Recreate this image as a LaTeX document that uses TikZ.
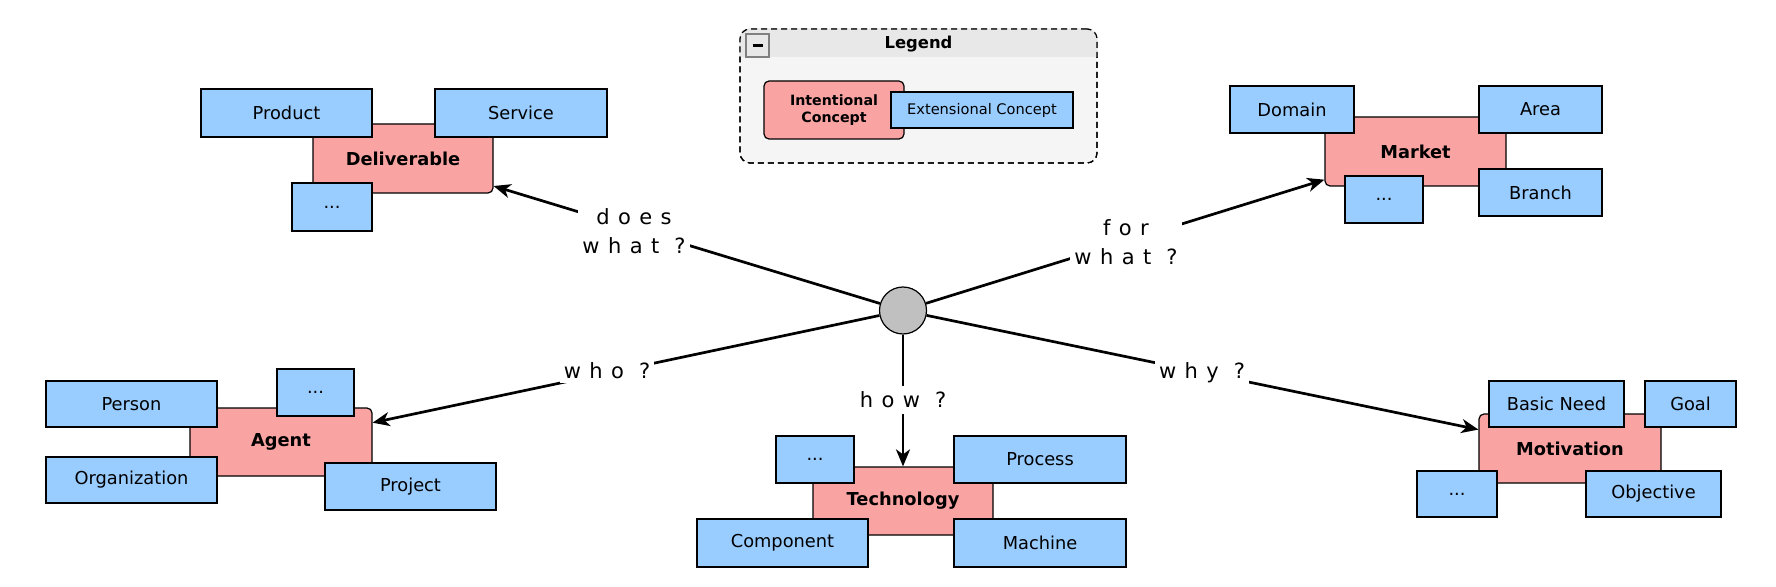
\documentclass[tikz,border=0pt]{standalone}
\usepackage{fontspec}
\setmainfont{DejaVu Sans}
\usetikzlibrary{arrows.meta}
\definecolor{intpink}{HTML}{F9A3A3}
\definecolor{extblue}{HTML}{99CCFF}
\definecolor{hubgray}{HTML}{C0C0C0}
\definecolor{legbody}{HTML}{F5F5F5}
\definecolor{legbar}{HTML}{E8E8E8}
\newcommand\lsp{\hspace{0.4em}}
\newcommand\qsp{\hspace{0.72em}}
\begin{document}
\begin{tikzpicture}[x=0.5pt,y=-0.5pt,
  wh/.style 2 args={minimum width=#1*0.5pt, minimum height=#2*0.5pt},
  intc/.style={draw=black, line width=0.6pt, fill=intpink, rounded corners=2.5pt, inner sep=0pt, align=center, font=\fontsize{8.9}{10}\selectfont\bfseries},
  extc/.style={draw=black, line width=0.6pt, fill=extblue, inner sep=0pt, font=\fontsize{8.9}{10}\selectfont},
  legint/.style={font=\fontsize{7.1}{8.6}\selectfont\bfseries},
  legext/.style={font=\fontsize{7.3}{8.6}\selectfont},
  hub/.style={circle, draw=black, line width=0.6pt, fill=hubgray, minimum size=23.5pt, inner sep=0pt},
  qarrow/.style={line width=1.35pt, -{Stealth[length=8.5pt,width=7pt,inset=2.5pt]}},
  qlabel/.style={fill=white, inner sep=2pt, align=center, font=\fontsize{10.5}{14.5}\selectfont},
  legendbox/.style={draw=black, line width=0.6pt, dash pattern=on 3pt off 2pt, rounded corners=5pt, inner sep=0pt},
]
\useasboundingbox (0,0) rectangle (1776,587);

% ---------- Legend ----------
\node[legendbox, fill=legbody, wh={357}{134}] (legend) at (918.5,96) {};
\fill[legbar] (legend.west |- 0,57) [rounded corners=5pt] -- (legend.north west) -- (legend.north east) [sharp corners] -- (legend.east |- 0,57) -- cycle;
\node[legendbox, wh={357}{134}] at (918.5,96) {};
\node[draw=gray, fill=legbar, line width=0.6pt, wh={23}{23}, inner sep=0pt] (minus) at (757.5,45.5) {};
\draw[line width=1.2pt] ([xshift=-2.5pt]minus.center) -- ([xshift=2.5pt]minus.center);
\node[font=\fontsize{8.2}{10}\selectfont\bfseries] (legtitle) at (918.5,44) {Legend};
\node[intc, legint, wh={140}{58}] (lint) at (834,110) {Intentional\\Concept};
\node[extc, legext, wh={182}{36}] (lext) at (982,110) {Extensional Concept};

% ---------- Intentional concepts ----------
\node[intc, wh={180}{69}] (deliv) at (403,158.5) {Deliverable};
\node[intc, wh={181}{69}] (market) at (1415.5,151.5) {Market};
\node[intc, wh={182}{68}] (agent) at (281,442) {Agent};
\node[intc, wh={180}{68}] (tech) at (903,501) {Technology};
\node[intc, wh={182}{69}] (motiv) at (1570,448.5) {Motivation};

% ---------- Extensional concepts ----------
\node[extc, wh={171}{48}] (product) at (286.5,113) {Product};
\node[extc, wh={172}{48}] (service) at (521,113) {Service};
\node[extc, wh={80}{48}] (ddots) at (332,207) {...};

\node[extc, wh={124}{47}] (domain) at (1292,109.5) {Domain};
\node[extc, wh={123}{47}] (area) at (1540.5,109.5) {Area};
\node[extc, wh={78}{47}] (mdots) at (1384,199.5) {...};
\node[extc, wh={123}{47}] (branch) at (1540.5,192.5) {Branch};

\node[extc, wh={171}{46}] (person) at (131.5,404) {Person};
\node[extc, wh={77}{47}] (adots) at (315.5,392.5) {...};
\node[extc, wh={171}{46}] (org) at (131.5,480) {Organization};
\node[extc, wh={171}{47}] (project) at (410.5,486.5) {Project};

\node[extc, wh={78}{47}] (tdots) at (815,459.5) {...};
\node[extc, wh={172}{47}] (process) at (1040,459.5) {Process};
\node[extc, wh={171}{48}] (component) at (782.5,543) {Component};
\node[extc, wh={172}{48}] (machine) at (1040,543) {Machine};

\node[extc, wh={135}{46}] (basic) at (1556.5,404) {Basic Need};
\node[extc, wh={91}{46}] (goal) at (1690.5,404) {Goal};
\node[extc, wh={80}{46}] (vdots) at (1457,494) {...};
\node[extc, wh={135}{46}] (objective) at (1653.5,494) {Objective};

% ---------- Hub and connectors ----------
\node[hub] (hub) at (903,310.5) {};
\draw[qarrow] (hub) -- (deliv);
\draw[qarrow] (hub) -- (market);
\draw[qarrow] (hub) -- (agent);
\draw[qarrow] (hub) -- (tech);
\draw[qarrow] (hub) -- (motiv);

% ---------- Connector labels ----------
\node[qlabel] (qdoes) at (634,231.5) {d\lsp o\lsp e\lsp s\\w\lsp h\lsp a\lsp t\qsp ?};
\node[qlabel] (qfor) at (1126,242.5) {f\lsp o\lsp r\\w\lsp h\lsp a\lsp t\qsp ?};
\node[qlabel] (qwho) at (607,371) {w\lsp h\lsp o\qsp ?};
\node[qlabel, inner ysep=3pt] (qhow) at (903,400) {h\lsp o\lsp w\qsp ?};
\node[qlabel] (qwhy) at (1202,373) {w\lsp h\lsp y\qsp ?};
\end{tikzpicture}
\end{document}
